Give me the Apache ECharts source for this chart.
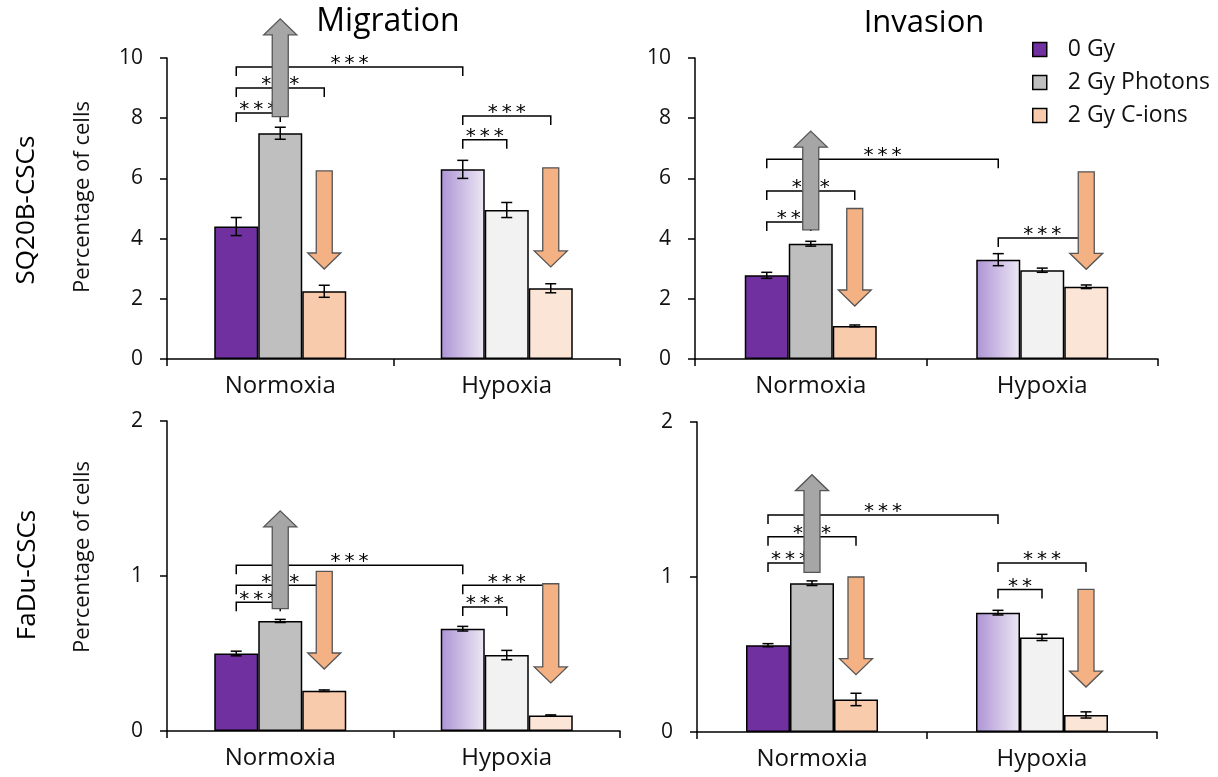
<!DOCTYPE html>
<html><head><meta charset="utf-8">
<script src="https://cdn.jsdelivr.net/npm/echarts@6/dist/echarts.min.js"></script>
<style>html,body{margin:0;padding:0;background:#fff}#c{width:1218px;height:777px}</style>
</head><body><div id="c"></div>
<script>
const categories = ['Normoxia', 'Hypoxia'];
const seriesNames = ['0 Gy', '2 Gy Photons', '2 Gy C-ions'];
// rows: 0 Gy, 2 Gy Photons, 2 Gy C-ions ; columns: Normoxia, Hypoxia
const sqMigValues = [[4.4, 6.3], [7.5, 4.95], [2.25, 2.35]];
const sqMigErrors = [[0.3, 0.3], [0.2, 0.25], [0.2, 0.15]];
const sqInvValues = [[2.78, 3.3], [3.83, 2.95], [1.1, 2.4]];
const sqInvErrors = [[0.1, 0.2], [0.08, 0.07], [0.03, 0.06]];
const faMigValues = [[0.5, 0.66], [0.71, 0.49], [0.26, 0.1]];
const faMigErrors = [[0.015, 0.015], [0.01, 0.03], [0.005, 0.004]];
const faInvValues = [[0.56, 0.77], [0.96, 0.61], [0.21, 0.11]];
const faInvErrors = [[0.01, 0.015], [0.015, 0.02], [0.04, 0.02]];
const topTicks = [0, 2, 4, 6, 8, 10];
const bottomTicks = [0, 1, 2];
// brackets: [catFrom, barFrom, catTo, barTo, yValue, label]
const sqMigBrackets = [[0,0,1,0,9.7,'***'],[0,0,0,2,9.0,'***'],[0,0,0,1,8.17,'***'],[1,0,1,1,7.28,'***'],[1,0,1,2,8.07,'***']];
const sqInvBrackets = [[0,0,1,0,6.64,'***'],[0,0,0,2,5.58,'***'],[0,0,0,1,4.55,'**'],[1,0,1,2,4.02,'***']];
const faMigBrackets = [[0,0,1,0,1.07,'***'],[0,0,0,2,0.94,'***'],[0,0,0,1,0.83,'***'],[1,0,1,1,0.80,'***'],[1,0,1,2,0.94,'***']];
const faInvBrackets = [[0,0,1,0,1.40,'***'],[0,0,0,2,1.26,'***'],[0,0,0,1,1.09,'***'],[1,0,1,1,0.92,'**'],[1,0,1,2,1.09,'***']];
// arrows: [category, bar, startValue, tipValue]
const sqMigArrows = [[0,1,8.05,11.3],[0,2,6.25,2.99],[1,2,6.35,3.06]];
const sqInvArrows = [[0,1,4.29,7.57],[0,2,5.0,1.76],[1,2,6.22,2.98]];
const faMigArrows = [[0,1,0.79,1.42],[0,2,1.03,0.40],[1,2,0.95,0.31]];
const faInvArrows = [[0,1,1.03,1.66],[0,2,1.0,0.37],[1,2,0.92,0.29]];

const FONT = 'Open Sans';
const BAR_W = 44;
const solidColors = ['#7030A0', '#BFBFBF', '#F8CBAD'];
const lightColors = [
  {type:'linear', x:0, y:0, x2:1, y2:0, colorStops:[{offset:0, color:'#AD93D5'},{offset:1, color:'#EDE8F4'}]},
  '#F2F2F2', '#FBE5D6'];

const panels = [
  {grid:{left:167, top:58, width:453, height:301}, values:sqMigValues, errors:sqMigErrors, brackets:sqMigBrackets, arrows:sqMigArrows, ticks:topTicks},
  {grid:{left:695, top:58, width:463, height:301}, values:sqInvValues, errors:sqInvErrors, brackets:sqInvBrackets, arrows:sqInvArrows, ticks:topTicks},
  {grid:{left:167, top:421, width:453, height:310}, values:faMigValues, errors:faMigErrors, brackets:faMigBrackets, arrows:faMigArrows, ticks:bottomTicks},
  {grid:{left:697, top:422, width:460, height:310}, values:faInvValues, errors:faInvErrors, brackets:faInvBrackets, arrows:faInvArrows, ticks:bottomTicks}
];

const grids = [], xAxes = [], yAxes = [], series = [];
panels.forEach((p, i) => {
  grids.push(p.grid);
  xAxes.push({type:'category', gridIndex:i, data:categories,
    axisLine:{lineStyle:{color:'#000', width:1.5}},
    axisTick:{show:true, length:7, lineStyle:{color:'#000', width:1.5}},
    axisLabel:{color:'#111', fontSize:24, fontFamily:FONT, margin:15}});
  const t = p.ticks;
  yAxes.push({type:'value', gridIndex:i, min:t[0], max:t[t.length-1], interval:t[1]-t[0],
    splitLine:{show:false},
    axisLine:{show:true, lineStyle:{color:'#000', width:1.5}},
    axisTick:{show:true, length:7, lineStyle:{color:'#000', width:1.5}},
    axisLabel:{color:'#111', fontSize:21, fontFamily:FONT, margin:24}});
  seriesNames.forEach((name, s) => {
    series.push({type:'bar', name, xAxisIndex:i, yAxisIndex:i, barWidth:BAR_W, barGap:'0%', z:2,
      itemStyle:{color:solidColors[s], borderColor:'#000', borderWidth:1.5},
      data:p.values[s].map((v, c) => c === 1 ? {value:v, itemStyle:{color:lightColors[s]}} : v)});
  });
  const errData = [];
  p.values.forEach((row, s) => row.forEach((v, c) => errData.push([c, v, p.errors[s][c], s])));
  series.push({type:'custom', xAxisIndex:i, yAxisIndex:i, z:3, silent:true, encode:{x:0, y:1}, data:errData,
    renderItem:(params, api) => {
      const c = api.value(0), v = api.value(1), e = api.value(2), s = api.value(3);
      const x = api.coord([c, v])[0] + (s - 1) * BAR_W;
      const yh = api.coord([c, v + e])[1], yl = api.coord([c, v - e])[1];
      const st = {stroke:'#000', lineWidth:1.5};
      return {type:'group', children:[
        {type:'line', shape:{x1:x, y1:yh, x2:x, y2:yl}, style:st},
        {type:'line', shape:{x1:x-5.5, y1:yh, x2:x+5.5, y2:yh}, style:st},
        {type:'line', shape:{x1:x-5.5, y1:yl, x2:x+5.5, y2:yl}, style:st}]};
    }});
  const br = p.brackets;
  series.push({type:'custom', xAxisIndex:i, yAxisIndex:i, z:4, silent:true, encode:{x:0, y:1},
    data:br.map(b => [b[0], b[4]]),
    renderItem:(params, api) => {
      const b = br[params.dataIndex];
      const p1 = api.coord([b[0], b[4]]), p2 = api.coord([b[2], b[4]]);
      const x1 = p1[0] + (b[1] - 1) * BAR_W, x2 = p2[0] + (b[3] - 1) * BAR_W, y = p1[1];
      return {type:'group', children:[
        {type:'polyline', shape:{points:[[x1, y+9],[x1, y],[x2, y],[x2, y+9]]}, style:{stroke:'#000', lineWidth:1.5, fill:null}},
        {type:'text', style:{x:(x1+x2)/2, y:y-3, text:b[5].split('').join('\u2009'), align:'center', verticalAlign:'middle', fontSize:20, fontFamily:'DejaVu Sans', fill:'#000'}}]};
    }});
  const ar = p.arrows;
  series.push({type:'custom', xAxisIndex:i, yAxisIndex:i, z:5, silent:true, encode:{x:0, y:1},
    data:ar.map(a => [a[0], a[2]]),
    renderItem:(params, api) => {
      const a = ar[params.dataIndex];
      const cx = api.coord([a[0], a[2]])[0] + (a[1] - 1) * BAR_W;
      const ys = api.coord([a[0], a[2]])[1], yt = api.coord([a[0], a[3]])[1];
      const dir = yt < ys ? -1 : 1;
      const hb = yt - dir * 16;
      const sw = 8, hw = 16.5;
      const fill = a[1] === 1 ? '#A6A6A6' : '#F4B183';
      return {type:'polygon', shape:{points:[[cx-sw, ys],[cx-sw, hb],[cx-hw, hb],[cx, yt],[cx+hw, hb],[cx+sw, hb],[cx+sw, ys]]},
        style:{fill, stroke:'#555', lineWidth:1.3}};
    }});
});

const chart = echarts.init(document.getElementById('c'));
chart.setOption({
  animation:false,
  backgroundColor:'#fff',
  grid:grids, xAxis:xAxes, yAxis:yAxes, series,
  legend:{data:seriesNames, orient:'vertical', left:1027, top:33, itemWidth:14, itemHeight:14, itemGap:10, icon:'rect',
    textStyle:{fontSize:23, color:'#111', fontFamily:FONT, padding:[0,0,0,16]},
    itemStyle:{borderColor:'#000', borderWidth:1.5}},
  graphic:[
    {type:'text', style:{x:388, y:22, text:'Migration', align:'center', verticalAlign:'middle', fontSize:32, fontFamily:FONT, fill:'#000'}},
    {type:'text', style:{x:924, y:23, text:'Invasion', align:'center', verticalAlign:'middle', fontSize:31, fontFamily:FONT, fill:'#000'}},
    {type:'text', x:27, y:210, rotation:Math.PI/2, style:{x:0, y:0, text:'SQ20B-CSCs', align:'center', verticalAlign:'middle', fontSize:26, fontFamily:FONT, fill:'#000'}},
    {type:'text', x:28, y:575, rotation:Math.PI/2, style:{x:0, y:0, text:'FaDu-CSCs', align:'center', verticalAlign:'middle', fontSize:26, fontFamily:FONT, fill:'#000'}},
    {type:'text', x:83, y:197, rotation:Math.PI/2, style:{x:0, y:0, text:'Percentage of cells', align:'center', verticalAlign:'middle', fontSize:22, fontFamily:FONT, fill:'#111'}},
    {type:'text', x:83, y:557, rotation:Math.PI/2, style:{x:0, y:0, text:'Percentage of cells', align:'center', verticalAlign:'middle', fontSize:22, fontFamily:FONT, fill:'#111'}}
  ]
});
</script></body></html>
